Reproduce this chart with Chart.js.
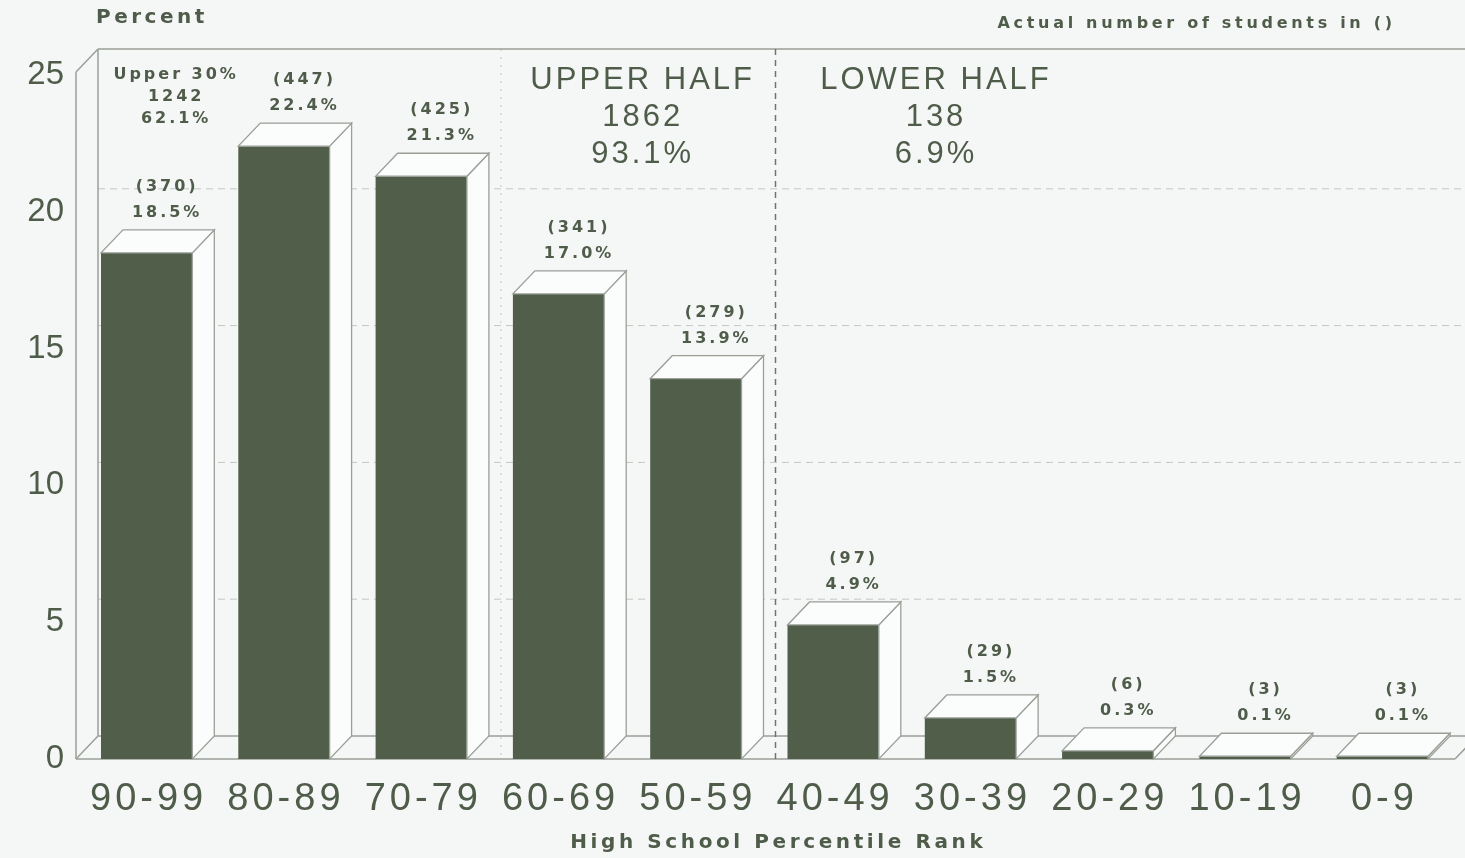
<!DOCTYPE html>
<html>
<head>
<meta charset="utf-8">
<script src="https://cdn.jsdelivr.net/npm/chart.js@4"></script>
<style>
  html, body { margin: 0; padding: 0; background: #f5f7f7; }
  #wrap { width: 1465px; height: 858px; position: relative; }
</style>
</head>
<body>
<div id="wrap"><canvas id="rankChart"></canvas></div>
<script>
// 数据
const categories = ['90-99', '80-89', '70-79', '60-69', '50-59', '40-49', '30-39', '20-29', '10-19', '0-9'];
const percents = [18.5, 22.4, 21.3, 17.0, 13.9, 4.9, 1.5, 0.3, 0.1, 0.1];
const counts = [370, 447, 425, 341, 279, 97, 29, 6, 3, 3];
const yTicks = [0, 5, 10, 15, 20, 25];
const upper30 = ['Upper 30%', '1242', '62.1%'];
const upperHalf = ['UPPER HALF', '1862', '93.1%'];
const lowerHalf = ['LOWER HALF', '138', '6.9%'];

const INK = '#4f5c49';
const EDGE = '#9a9f97';
const DX = 22, DY = -23;   // 3D 进深偏移
const FONT = '"Liberation Sans", Arial, sans-serif';
const BOLD = '"DejaVu Sans", "Liberation Sans", sans-serif';

function text(ctx, str, x, y, font, spacing, align) {
    ctx.save();
    ctx.font = font;
    ctx.letterSpacing = spacing + 'px';
    ctx.fillStyle = INK;
    ctx.textBaseline = 'middle';
    ctx.textAlign = align || 'center';
    // letterSpacing 会在末尾多出一格，居中时补回
    const shift = (align || 'center') === 'center' ? spacing / 2 : (align === 'right' ? spacing : 0);
    ctx.fillText(str, x + shift, y);
    ctx.restore();
}

function poly(ctx, pts, fill) {
    ctx.beginPath();
    ctx.moveTo(pts[0][0], pts[0][1]);
    for (let i = 1; i < pts.length; i++) ctx.lineTo(pts[i][0], pts[i][1]);
    ctx.closePath();
    if (fill) { ctx.fillStyle = fill; ctx.fill(); }
    ctx.stroke();
}

function line(ctx, x1, y1, x2, y2) {
    ctx.beginPath();
    ctx.moveTo(x1, y1);
    ctx.lineTo(x2, y2);
    ctx.stroke();
}

const box3d = {
    id: 'box3d',
    beforeDraw(chart) {
        const ctx = chart.ctx;
        ctx.save();
        ctx.fillStyle = '#f5f7f7';
        ctx.fillRect(0, 0, chart.width, chart.height);
        ctx.restore();
    },
    beforeDatasetsDraw(chart) {
        const { ctx, scales: { x, y }, chartArea } = chart;
        const W = chart.width;
        const L = chartArea.left - 2;
        const B = y.getPixelForValue(0);
        const T = y.getPixelForValue(yTicks[yTicks.length - 1]) - 3;
        const catW = (chartArea.right - chartArea.left) / categories.length;

        ctx.save();
        // 背板网格
        ctx.strokeStyle = '#c3c7c1';
        ctx.lineWidth = 1;
        ctx.setLineDash([7, 5]);
        yTicks.slice(1, -1).forEach(v => {
            const py = y.getPixelForValue(v) + DY;
            line(ctx, L + DX, py, W, py);
        });
        // 淡色分隔线 (70-79 | 60-69)
        ctx.setLineDash([2, 6]);
        ctx.strokeStyle = '#c3c7c0';
        const xa = x.getPixelForValue(2) + catW / 2 + DX / 2;
        line(ctx, xa, T + DY, xa, B);
        ctx.setLineDash([]);

        // 外框
        ctx.strokeStyle = EDGE;
        ctx.lineWidth = 1.5;
        line(ctx, L, T, L, B);
        line(ctx, L, T, L + DX, T + DY);
        line(ctx, L + DX, T + DY, W, T + DY);
        line(ctx, L + DX, T + DY, L + DX, B + DY);
        line(ctx, L, B, L + DX, B + DY);
        line(ctx, L + DX, B + DY, W, B + DY);
        line(ctx, L, B, chartArea.right + 4, B);
        line(ctx, chartArea.right + 4, B, chartArea.right + 4 + DX, B + DY);
        ctx.restore();
    },
    afterDatasetsDraw(chart) {
        const { ctx, scales: { x, y }, chartArea } = chart;
        const meta = chart.getDatasetMeta(0);
        const catW = (chartArea.right - chartArea.left) / categories.length;
        const B = y.getPixelForValue(0);
        const T = y.getPixelForValue(yTicks[yTicks.length - 1]) - 3;

        ctx.save();
        ctx.strokeStyle = EDGE;
        ctx.lineWidth = 1.3;
        meta.data.forEach((bar, i) => {
            const { x: cx, y: top, base, width } = bar.getProps(['x', 'y', 'base', 'width'], true);
            const l = cx - width / 2, r = cx + width / 2;
            poly(ctx, [[r, base], [r, top], [r + DX, top + DY], [r + DX, base + DY]], '#fbfcfc');
            poly(ctx, [[l, top], [r, top], [r + DX, top + DY], [l + DX, top + DY]], '#fbfcfc');
            // 数值标签
            const lx = cx + DX / 2 + 8;
            const ly = top + DY - 17;
            text(ctx, percents[i].toFixed(1) + '%', lx, ly, 'bold 16px ' + BOLD, 3);
            text(ctx, '(' + counts[i] + ')', lx, ly - 26, 'bold 16px ' + BOLD, 3);
        });

        // 主分隔虚线 (50-59 | 40-49)
        const xd = x.getPixelForValue(4) + catW / 2 + DX / 2;
        ctx.strokeStyle = '#6f7669';
        ctx.lineWidth = 1.5;
        ctx.setLineDash([6, 5]);
        line(ctx, xd, T + DY, xd, B);
        ctx.setLineDash([]);
        ctx.restore();

        // 分组注释
        const y25 = y.getPixelForValue(25);
        const x0 = meta.data[0].x;
        upper30.forEach((s, k) => text(ctx, s, x0 + 28, y25 + k * 22, 'bold 16px ' + BOLD, 3));
        const xa = x.getPixelForValue(2) + catW / 2 + DX / 2;
        upperHalf.forEach((s, k) => text(ctx, s, (xa + xd) / 2 + 3, y25 + 5 + k * 37, '31px ' + FONT, 3));
        lowerHalf.forEach((s, k) => text(ctx, s, xd + 159, y25 + 5 + k * 37, '31px ' + FONT, 3));

        // 横轴刻度
        categories.forEach((c, i) => {
            text(ctx, c, x.getPixelForTick(i), B + 41, '38px ' + FONT, 4);
        });
        // 标题文字
        text(ctx, 'High School Percentile Rank', (chartArea.left + chartArea.right) / 2 + 12, 843, 'bold 20px ' + BOLD, 3.6);
        text(ctx, 'Percent', 96, 18, 'bold 20px ' + BOLD, 3.5, 'left');
        text(ctx, 'Actual number of students in ()', 1392, 24, 'bold 16px ' + BOLD, 3.7, 'right');
    }
};

new Chart(document.getElementById('rankChart'), {
    type: 'bar',
    data: {
        labels: categories,
        datasets: [{
            data: percents,
            backgroundColor: '#515f4a',
            borderWidth: 0,
            barPercentage: 0.665,
            categoryPercentage: 1
        }]
    },
    options: {
        responsive: true,
        maintainAspectRatio: false,
        animation: false,
        layout: { padding: { top: 75, right: 14, left: 0, bottom: 0 } },
        plugins: {
            legend: { display: false },
            title: { display: false },
            tooltip: { enabled: false }
        },
        scales: {
            x: {
                grid: { display: false },
                border: { display: false },
                ticks: { display: false },
                afterFit: s => { s.height = 99; }
            },
            y: {
                min: 0,
                max: 25,
                grid: { display: false, drawTicks: false },
                border: { display: false },
                ticks: {
                    stepSize: 5,
                    padding: 14,
                    color: INK,
                    font: { family: FONT, size: 33 }
                },
                afterFit: s => { s.width = 78; }
            }
        }
    },
    plugins: [box3d]
});
</script>
</body>
</html>
